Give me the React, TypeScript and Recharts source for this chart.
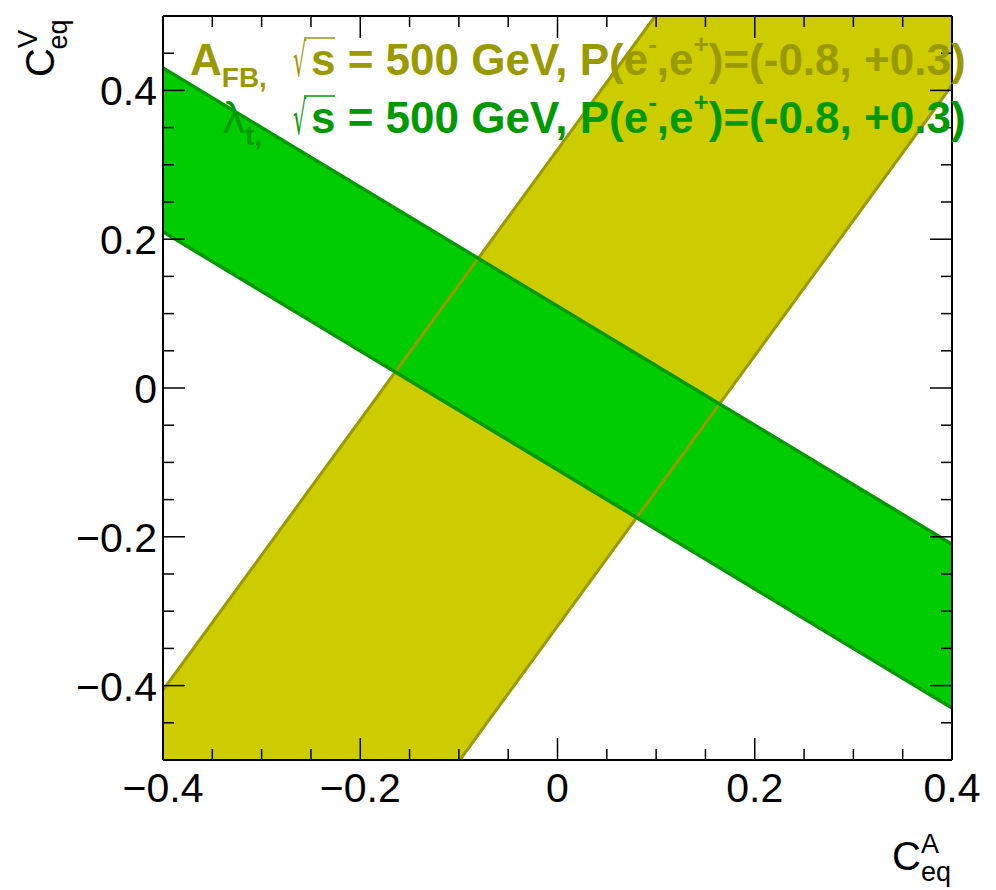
import { ComposedChart, Area, Line, XAxis, YAxis } from "recharts";

// ── Data ──────────────────────────────────────────────────

const X_TICKS = [
  -0.4, -0.35, -0.3, -0.25, -0.2, -0.15, -0.1, -0.05, 0, 0.05, 0.1, 0.15, 0.2, 0.25, 0.3,
  0.35, 0.4,
];
const X_MAJOR = [-0.4, -0.2, 0, 0.2, 0.4];
const X_LABELS = ["\u22120.4", "\u22120.2", "0", "0.2", "0.4"];

const Y_TICKS = [
  -0.5, -0.45, -0.4, -0.35, -0.3, -0.25, -0.2, -0.15, -0.1, -0.05, 0, 0.05, 0.1, 0.15, 0.2,
  0.25, 0.3, 0.35, 0.4, 0.45, 0.5,
];
const Y_MAJOR = [-0.4, -0.2, 0, 0.2, 0.4];
const Y_LABELS = ["\u22120.4", "\u22120.2", "0", "0.2", "0.4"];

// A_FB band (yellow): corners of the band inside the frame
const AFB_X = [-0.4, -0.099, 0.099, 0.4];
const AFB_LOW = [-0.5, -0.5, -0.14, 0.407];
const AFB_HIGH = [-0.406, 0.14, 0.5, 0.5];

// A_FB band edges
const AFB_LEFT_X = [-0.4, 0.099];
const AFB_LEFT_Y = [-0.406, 0.5];
const AFB_RIGHT_X = [-0.099, 0.4];
const AFB_RIGHT_Y = [-0.5, 0.407];

// lambda_t band (green)
const LT_X = [-0.4, 0.4];
const LT_LOW = [0.21, -0.43];
const LT_HIGH = [0.43, -0.21];

// ── Styles ────────────────────────────────────────────────

const W = 996;
const H = 890;
// plot frame: x 163..952, y 16..760 (axis boxes are added to the margins)
const AXIS_W = 60;
const AXIS_H = 40;
const AXIS_SIDE = 10;
const MARGIN = {
  top: 16 - AXIS_SIDE,
  right: 44 - AXIS_SIDE,
  bottom: 130 - AXIS_H,
  left: 163 - AXIS_W,
};
const FONT = "'Liberation Sans', Arial, Helvetica, sans-serif";

const YELLOW_FILL = "#cccc00";
const YELLOW_LINE = "#999900";
const GREEN_FILL = "#00cc00";
const GREEN_LINE = "#009900";

const MAJOR_LEN = 22;
const MINOR_LEN = 11;

// ── Helpers ───────────────────────────────────────────────

const majorIndex = (list: number[], v: number) =>
  list.findIndex((m) => Math.abs(m - v) < 1e-9);

const bandRows = (xs: number[], lo: number[], hi: number[]) =>
  xs.map((x, i) => ({ x, lo: lo[i], hi: hi[i] }));

const lineRows = (xs: number[], ys: number[]) => xs.map((x, i) => ({ x, y: ys[i] }));

// ── Ticks ─────────────────────────────────────────────────

const BottomTick = ({ x, y, payload }: any) => {
  const i = majorIndex(X_MAJOR, payload.value);
  const len = i >= 0 ? MAJOR_LEN : MINOR_LEN;
  return (
    <g>
      <line x1={x} y1={y} x2={x} y2={y - len} stroke="#000" strokeWidth={1.5} />
      {i >= 0 && (
        <text x={x} y={y + 42} textAnchor="middle" fontSize={41} fontFamily={FONT} fill="#000">
          {X_LABELS[i]}
        </text>
      )}
    </g>
  );
};

const TopTick = ({ x, y, payload }: any) => {
  const len = majorIndex(X_MAJOR, payload.value) >= 0 ? MAJOR_LEN : MINOR_LEN;
  return <line x1={x} y1={y} x2={x} y2={y + len} stroke="#000" strokeWidth={1.5} />;
};

const LeftTick = ({ x, y, payload }: any) => {
  const i = majorIndex(Y_MAJOR, payload.value);
  const len = i >= 0 ? MAJOR_LEN : MINOR_LEN;
  return (
    <g>
      <line x1={x} y1={y} x2={x + len} y2={y} stroke="#000" strokeWidth={1.5} />
      {i >= 0 && (
        <text x={x - 6} y={y + 15} textAnchor="end" fontSize={41} fontFamily={FONT} fill="#000">
          {Y_LABELS[i]}
        </text>
      )}
    </g>
  );
};

const RightTick = ({ x, y, payload }: any) => {
  const len = majorIndex(Y_MAJOR, payload.value) >= 0 ? MAJOR_LEN : MINOR_LEN;
  return <line x1={x} y1={y} x2={x - len} y2={y} stroke="#000" strokeWidth={1.5} />;
};

// ── Legend / titles overlay ───────────────────────────────

const LegendLine = ({
  color,
  y,
  head,
  sub,
  headX,
  headWeight,
}: {
  color: string;
  y: number;
  head: string;
  sub: string;
  headX: number;
  headWeight: string;
}) => (
  <g fill={color} fontFamily={FONT}>
    <text x={headX} y={y} fontSize={44} fontWeight={headWeight}>
      {head}
      <tspan fontSize={28} fontWeight="bold" dy={12}>
        {sub}
      </tspan>
    </text>
    <text
      transform={`translate(293, ${y + 1}) scale(0.45, 1)`}
      fontSize={46}
      fontFamily="'DejaVu Sans', sans-serif"
    >
      {"\u221A"}
    </text>
    <line x1={304} y1={y - 37} x2={335} y2={y - 37} stroke={color} strokeWidth={1.5} />
    <text x={311} y={y} fontSize={44} fontWeight="bold">
      s = 500 GeV, P(e
      <tspan fontSize={26} dy={-22}>
        -
      </tspan>
      <tspan dy={22}>,e</tspan>
      <tspan fontSize={26} dy={-22}>
        +
      </tspan>
      <tspan dy={22}>)=(-0.8, +0.3)</tspan>
    </text>
  </g>
);

const Overlay = () => (
  <svg
    width={W}
    height={H}
    style={{ position: "absolute", left: 0, top: 0, pointerEvents: "none" }}
  >
    <LegendLine color={YELLOW_LINE} y={75} head="A" sub="FB," headX={190} headWeight="bold" />
    <LegendLine color={GREEN_LINE} y={133} head={"\u03BB"} sub="t," headX={223} headWeight="normal" />

    {/* y-axis title */}
    <text transform="translate(54, 77) rotate(-90)" fontSize={40} fontFamily={FONT} fill="#000">
      C
      <tspan fontSize={27} dy={-17}>
        V
      </tspan>
      <tspan fontSize={27} dx={-18} dy={30}>
        eq
      </tspan>
    </text>

    {/* x-axis title */}
    <text x={892} y={870} fontSize={40} fontFamily={FONT} fill="#000">
      C
      <tspan fontSize={27} dy={-17}>
        A
      </tspan>
      <tspan fontSize={27} dx={-18} dy={28}>
        eq
      </tspan>
    </text>
  </svg>
);

// ── Component ─────────────────────────────────────────────

export default function App() {
  const afbBand = bandRows(AFB_X, AFB_LOW, AFB_HIGH);
  const ltBand = bandRows(LT_X, LT_LOW, LT_HIGH);

  return (
    <div style={{ position: "absolute", left: 0, top: 0, width: W, height: H, background: "#fff" }}>
      <ComposedChart width={W} height={H} margin={MARGIN}>
        <XAxis
          xAxisId="b"
          type="number"
          dataKey="x"
          domain={[-0.4, 0.4]}
          ticks={X_TICKS}
          interval={0}
          height={AXIS_H}
          tickSize={0}
          tickMargin={0}
          tickLine={false}
          tick={<BottomTick />}
          axisLine={{ stroke: "#000", strokeWidth: 2 }}
          allowDataOverflow
        />
        <XAxis
          xAxisId="t"
          orientation="top"
          type="number"
          dataKey="x"
          domain={[-0.4, 0.4]}
          ticks={X_TICKS}
          interval={0}
          height={AXIS_SIDE}
          tickSize={0}
          tickMargin={0}
          tickLine={false}
          tick={<TopTick />}
          axisLine={{ stroke: "#000", strokeWidth: 2 }}
          allowDataOverflow
        />
        <YAxis
          yAxisId="l"
          type="number"
          domain={[-0.5, 0.5]}
          ticks={Y_TICKS}
          interval={0}
          width={AXIS_W}
          tickSize={0}
          tickMargin={0}
          tickLine={false}
          tick={<LeftTick />}
          axisLine={{ stroke: "#000", strokeWidth: 2 }}
          allowDataOverflow
        />
        <YAxis
          yAxisId="r"
          orientation="right"
          type="number"
          domain={[-0.5, 0.5]}
          ticks={Y_TICKS}
          interval={0}
          width={AXIS_SIDE}
          tickSize={0}
          tickMargin={0}
          tickLine={false}
          tick={<RightTick />}
          axisLine={{ stroke: "#000", strokeWidth: 2 }}
          allowDataOverflow
        />

        <Area
          xAxisId="b"
          yAxisId="l"
          data={afbBand}
          dataKey={(d: any) => [d.lo, d.hi]}
          type="linear"
          fill={YELLOW_FILL}
          fillOpacity={1}
          stroke="none"
          isAnimationActive={false}
        />
        <Area
          xAxisId="b"
          yAxisId="l"
          data={ltBand}
          dataKey={(d: any) => [d.lo, d.hi]}
          type="linear"
          fill={GREEN_FILL}
          fillOpacity={1}
          stroke="none"
          isAnimationActive={false}
        />
        <Line
          xAxisId="b"
          yAxisId="l"
          data={lineRows(AFB_LEFT_X, AFB_LEFT_Y)}
          dataKey="y"
          type="linear"
          stroke={YELLOW_LINE}
          strokeWidth={3}
          dot={false}
          isAnimationActive={false}
        />
        <Line
          xAxisId="b"
          yAxisId="l"
          data={lineRows(AFB_RIGHT_X, AFB_RIGHT_Y)}
          dataKey="y"
          type="linear"
          stroke={YELLOW_LINE}
          strokeWidth={3}
          dot={false}
          isAnimationActive={false}
        />
        <Line
          xAxisId="b"
          yAxisId="l"
          data={lineRows(LT_X, LT_HIGH)}
          dataKey="y"
          type="linear"
          stroke={GREEN_LINE}
          strokeWidth={3.5}
          dot={false}
          isAnimationActive={false}
        />
        <Line
          xAxisId="b"
          yAxisId="l"
          data={lineRows(LT_X, LT_LOW)}
          dataKey="y"
          type="linear"
          stroke={GREEN_LINE}
          strokeWidth={3.5}
          dot={false}
          isAnimationActive={false}
        />
      </ComposedChart>
      <Overlay />
    </div>
  );
}
